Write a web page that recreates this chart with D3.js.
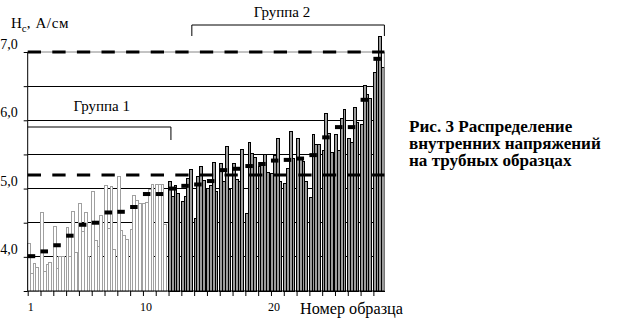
<!DOCTYPE html>
<html><head><meta charset="utf-8">
<script src="https://cdn.jsdelivr.net/npm/d3@7"></script>
<style>
html,body{margin:0;padding:0;background:#fff;}
svg{display:block;}
svg text{font-family:"Liberation Serif","Times New Roman",Times,serif;fill:#000;}
</style></head>
<body><svg id="c" width="627" height="322"></svg>
<script>
// ---- data ----
const samples = d3.range(1, 29);            // sample numbers 1..28
const group1Last = 11;                      // samples 1..11 = group 1 (white bars)
const series1 = [4.20,4.65,4.45,4.43,4.78,4.95,5.04,5.17,4.40,4.78,5.06, 5.10,4.81,4.56,5.00,5.37,5.37,4.64,5.33,5.22,5.07,5.73,4.87,5.56,5.79,5.73,5.94,6.70];
const series2 = [3.75,3.79,3.83,4.00,4.37,4.24,4.42,4.39,4.90,4.79,5.06, 4.89,4.89,5.18,5.04,5.10,5.13,5.67,5.38,5.48,5.30,5.42,5.79,6.10,5.56,5.68,6.51,6.90];
const series3 = [3.90,3.89,4.00,4.66,4.65,4.15,5.03,4.31,4.83,4.98,5.06, 5.05,5.15,5.33,5.38,5.62,5.10,5.51,5.50,5.73,5.84,5.40,5.64,5.81,6.03,6.19,6.38,7.23];
const series4 = [3.85,3.92,4.00,4.07,4.01,4.60,4.11,4.25,4.78,5.06,4.47, 4.93,5.28,5.12,4.95,4.99,5.57,5.46,5.24,5.11,5.44,5.11,5.65,5.53,6.16,5.97,6.32,6.78];
const means   = [4.01,4.08,4.17,4.31,4.47,4.50,4.65,4.66,4.73,4.92,4.92, 5.00,5.04,5.06,5.11,5.27,5.29,5.33,5.36,5.41,5.42,5.44,5.49,5.75,5.90,5.90,6.30,6.90];
const refLines = [5.2, 7.0];
const yTicks = [3.5, 4.0, 4.5, 5.0, 5.5, 6.0, 6.5, 7.0];
const yLabelTicks = [4.0, 5.0, 6.0, 7.0];
const gridValues = [4.0, 4.5, 5.0, 5.5, 6.0, 6.5];
const xLabelSamples = [1, 10, 20];
const groupNames = ["Группа 1", "Группа 2"];
const groupFrom = [1, 14];
const groupTo = [12, 28];
const yTitle = ["H", "c", ", А/см"];
const xTitle = "Номер образца";
const caption = ["Рис. 3 Распределение", "внутренних напряжений", "на трубных образцах"];

// ---- scales ----
const FONT = "Liberation Serif";
const svg = d3.select("#c");
const y = d3.scaleLinear().domain([3.5, 7.0]).range([291, 52]);
const x = d3.scaleBand().domain(samples).range([27.7, 384.4]).paddingInner(0.14).paddingOuter(0);
const xb = d3.scaleBand().domain([0,1,2,3]).range([0, x.bandwidth()]);
const xs = d3.scaleLinear().domain([1, 28]).range([x(1), x(28)]);
const x0 = x(1), x1 = x(28) + x.bandwidth();
const series = [series1, series2, series3, series4];

// gridlines
svg.append("g").attr("shape-rendering", "crispEdges").selectAll("line").data(gridValues).join("line")
  .attr("x1", x0).attr("x2", x1).attr("y1", d => y(d)).attr("y2", d => y(d))
  .attr("stroke", "#000").attr("stroke-width", 1);

// bars
const bars = [];
samples.forEach((s, i) => series.forEach((ser, j) => bars.push({s, j, v: ser[i]})));
svg.append("g").attr("shape-rendering", "crispEdges").selectAll("rect").data(bars).join("rect")
  .attr("x", d => x(d.s) + xb(d.j))
  .attr("width", xb.bandwidth())
  .attr("y", d => y(d.v))
  .attr("height", d => y(3.5) - y(d.v))
  .attr("fill", d => d.s <= group1Last ? "#fff" : "#9c9c9c")
  .attr("stroke", d => d.s <= group1Last ? "#a0a0a0" : "#000")
  .attr("stroke-width", 1);

// plot frame (gray top/right)
svg.append("line").attr("x1", x0).attr("x2", x1).attr("y1", y(7)).attr("y2", y(7)).attr("stroke", "#888");
svg.append("line").attr("x1", x1).attr("x2", x1).attr("y1", y(7)).attr("y2", y(3.5)).attr("stroke", "#888");

// reference dashed lines
svg.append("g").selectAll("line").data(refLines).join("line")
  .attr("x1", x0).attr("x2", x1).attr("y1", d => y(d)).attr("y2", d => y(d))
  .attr("stroke", "#000").attr("stroke-width", 3).attr("stroke-dasharray", "13.3,11.3");

// mean markers
svg.append("g").selectAll("rect").data(samples).join("rect")
  .attr("x", s => x(s)).attr("width", 7.5)
  .attr("y", (s, i) => y(means[i]) - 2).attr("height", 4)
  .attr("fill", "#000");

// axes
const ya = svg.append("g").attr("transform", `translate(${x0},0)`)
  .call(d3.axisLeft(y).tickValues(yTicks).tickSize(4).tickPadding(6)
    .tickFormat(d => yLabelTicks.includes(d) ? d3.format(".1f")(d).replace(".", ",") : ""));
ya.select(".domain").remove();
ya.selectAll("line").attr("stroke", "#000");
ya.selectAll("text").attr("font-family", FONT).attr("font-size", 14).attr("dy", "-0.25em").attr("fill", "#000");
svg.append("line").attr("x1", x0).attr("x2", x0).attr("y1", y(7)).attr("y2", y(3.5)).attr("stroke", "#000");

const xa = svg.append("g").attr("transform", `translate(0,${y(3.5)})`)
  .call(d3.axisBottom(xs).tickValues(samples).tickSize(5).tickPadding(6)
    .tickFormat(d => xLabelSamples.includes(d) ? d : ""));
xa.select(".domain").remove();
xa.selectAll("line").attr("stroke", "#000");
xa.selectAll("text").attr("font-family", FONT).attr("font-size", 12).attr("dx", 2.5).attr("fill", "#000");
svg.append("line").attr("x1", x0).attr("x2", x1).attr("y1", y(3.5)).attr("y2", y(3.5)).attr("stroke", "#000");

// group brackets
const bracket = [
  {name: groupNames[0], xa: x(groupFrom[0]), xb: x(groupTo[0]) + 2.4, yTop: 127, yEnd: 140, ends: [false, true], tx: 101.7, ty: 111},
  {name: groupNames[1], xa: x(groupFrom[1]) - 2.3, xb: x(groupTo[1]) + x.bandwidth(), yTop: 25, yEnd: 36, ends: [true, true], tx: 282, ty: 17}
];
bracket.forEach(b => {
  let d = `M${b.xa},${b.ends[0] ? b.yEnd : b.yTop}L${b.xa},${b.yTop}L${b.xb},${b.yTop}L${b.xb},${b.yEnd}`;
  svg.append("path").attr("d", d).attr("fill", "none").attr("stroke", "#000");
  svg.append("text").attr("x", b.tx).attr("y", b.ty).attr("text-anchor", "middle")
    .attr("font-family", FONT).attr("font-size", 15).text(b.name);
});

// titles
const yt = svg.append("text").attr("x", 11).attr("y", 28).attr("font-family", FONT).attr("font-size", 15);
yt.append("tspan").text(yTitle[0]);
yt.append("tspan").attr("dy", 4).attr("font-size", 11).text(yTitle[1]);
yt.append("tspan").attr("dy", -4).attr("letter-spacing", 0.6).text(yTitle[2]);

svg.append("text").attr("x", 300).attr("y", 314).attr("font-family", FONT).attr("font-size", 16.2).text(xTitle);

svg.append("g").attr("transform", "translate(409,0) scale(1.07,1)")
  .selectAll("text").data(caption).join("text")
  .attr("x", 0).attr("y", (d, i) => 132 + i * 17)
  .attr("font-family", FONT).attr("font-weight", "bold")
  .attr("font-size", 16).text(d => d);
</script></body></html>
